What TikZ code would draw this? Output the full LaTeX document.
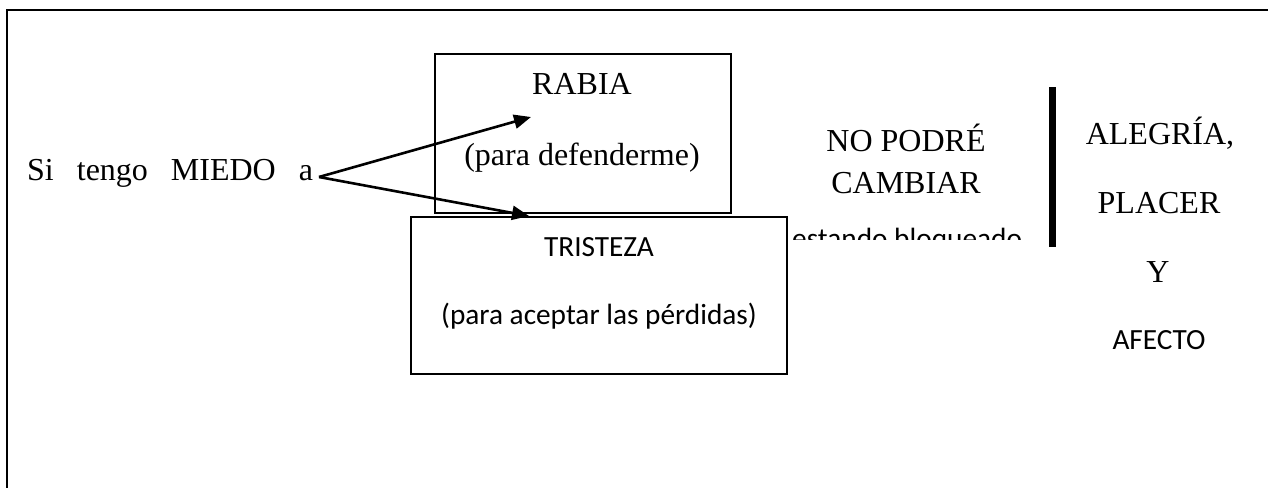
\documentclass[tikz,border=0pt]{standalone}
\usepackage{fontspec}
\setmainfont{Liberation Serif}
\newfontfamily\calibri{Carlito}
\usetikzlibrary{arrows.meta}
\begin{document}
\begin{tikzpicture}[x=1pt,y=-1pt,
 tnr/.style={font=\fontsize{32}{38}\selectfont, inner sep=0pt, anchor=base},
 cal/.style={font=\calibri\fontsize{29.3}{35}\selectfont, inner sep=0pt, anchor=base},
 boxnode/.style={draw, line width=1.6pt, inner sep=0pt},
 arr/.style={line width=2.6pt, -{Triangle[length=17pt,width=14pt]}}]
\useasboundingbox (0,0) rectangle (1268,487);
\draw[line width=2pt] (7,488) -- (7,10) -- (1269,10);
\node[boxnode, minimum width=296pt, minimum height=159pt] (rabia) at (583,133.5) {};
\node[boxnode, minimum width=376pt, minimum height=157pt] (tristeza) at (599,295.5) {};
\node[tnr] (rabiat) at (582,94) {RABIA};
\node[tnr] (defen) at (582,165) {(para defenderme)};
\node[cal] (trist) at (599,256) {TRISTEZA};
\node[cal] (acept) at (599,324) {(para aceptar las pérdidas)};
\node[tnr] (nopodre) at (906,151) {NO PODRÉ};
\node[tnr] (cambiar) at (906,193) {CAMBIAR};
\node[tnr] (alegria) at (1160,144) {ALEGRÍA,};
\node[tnr] (placer) at (1159,213) {PLACER};
\node[tnr] (ynode) at (1158,282) {Y};
\node[cal] (afecto) at (1159,349) {AFECTO};
\begin{scope}
\clip (780,200) rectangle (1040,239);
\node[cal, anchor=base west] (estando) at (792,248) {estando bloqueado};
\end{scope}
\node[fill, inner sep=0pt, minimum width=7pt, minimum height=160pt] (bar) at (1052.5,167) {};
\node[tnr, anchor=base west] (miedo) at (27,180) {Si\hspace{23pt}tengo\hspace{23pt}MIEDO\hspace{23pt}a};
\coordinate (apex) at (319,177);
\coordinate (tipA) at (531,117);
\coordinate (tipB) at (529,216);
\draw[arr] (apex) -- (tipA);
\draw[arr] (apex) -- (tipB);
\end{tikzpicture}
\end{document}
